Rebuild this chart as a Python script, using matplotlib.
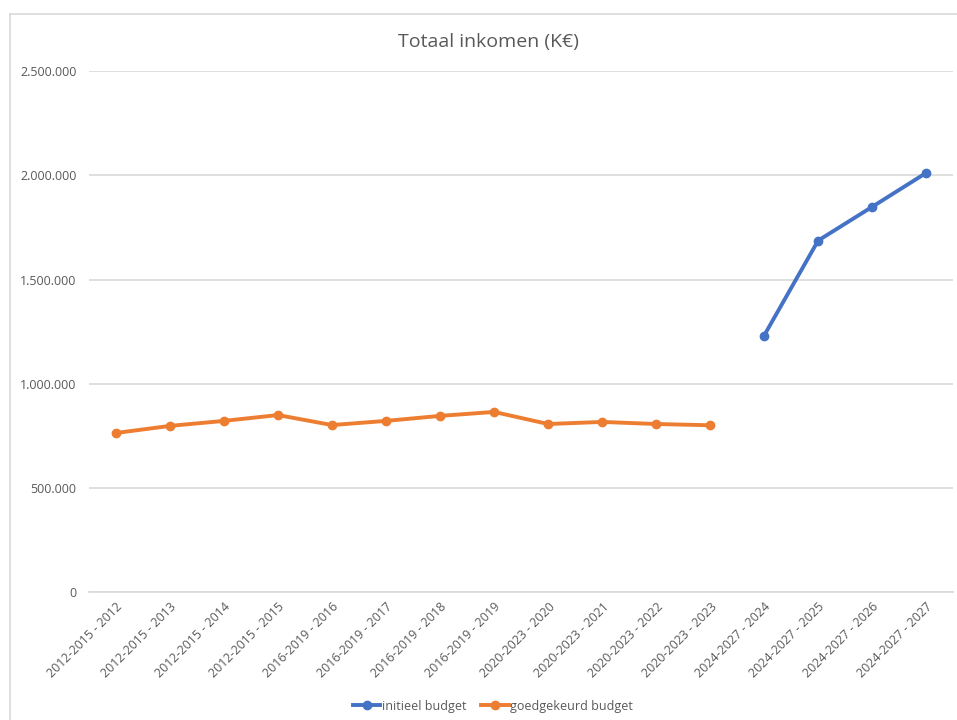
import matplotlib.pyplot as plt
from matplotlib.ticker import FuncFormatter
from matplotlib.lines import Line2D

plt.rcParams['font.family'] = ['Open Sans', 'DejaVu Sans']

# categorieën (legislatuur - jaar)
labels = ['2012-2015 - 2012', '2012-2015 - 2013', '2012-2015 - 2014', '2012-2015 - 2015',
          '2016-2019 - 2016', '2016-2019 - 2017', '2016-2019 - 2018', '2016-2019 - 2019',
          '2020-2023 - 2020', '2020-2023 - 2021', '2020-2023 - 2022', '2020-2023 - 2023',
          '2024-2027 - 2024', '2024-2027 - 2025', '2024-2027 - 2026', '2024-2027 - 2027']

# goedgekeurd budget (2012-2023)
goedgekeurd = [763000, 797000, 821000, 849000, 801000, 821000, 845000, 864000,
               806000, 816000, 806000, 800000]
# initieel budget (2024-2027)
initieel = [1231000, 1687000, 1849000, 2012000]

blue = '#4472C4'
orange = '#ED7D31'
grey = '#595959'

fig = plt.figure(figsize=(9.57, 7.2), dpi=100)
ax = fig.add_axes([0.093, 0.178, 0.903, 0.723])

x_all = list(range(len(labels)))
x_goed = x_all[:len(goedgekeurd)]
x_init = x_all[len(goedgekeurd):]

ax.plot(x_init, initieel, color=blue, lw=2.8, marker='o', ms=6, label='initieel budget',
        solid_capstyle='round', zorder=3)
ax.plot(x_goed, goedgekeurd, color=orange, lw=2.8, marker='o', ms=6, label='goedgekeurd budget',
        solid_capstyle='round', zorder=3)

ax.set_xlim(-0.5, len(labels) - 0.5)
ax.set_ylim(0, 2500000)
ax.set_yticks(range(0, 2500001, 500000))
ax.yaxis.set_major_formatter(FuncFormatter(lambda v, p: f'{int(v):,}'.replace(',', '.')))
ax.set_xticks(x_all)
ax.set_xticklabels(labels, rotation=45, ha='right', rotation_mode='anchor')

ax.grid(axis='y', color='#D9D9D9', lw=1.2)
ax.set_axisbelow(True)
for s in ['top', 'right', 'left']:
    ax.spines[s].set_visible(False)
ax.spines['bottom'].set_color('#D9D9D9')
ax.spines['bottom'].set_linewidth(1.2)
ax.tick_params(axis='both', length=0, colors=grey, labelsize=9)
ax.tick_params(axis='y', pad=9)
ax.tick_params(axis='x', pad=6)

fig.text(0.51, 0.942, 'Totaal inkomen (K€)', ha='center', va='center', fontsize=14, color=grey)

handles = [Line2D([], [], color=blue, lw=2.8, marker='o', ms=6),
           Line2D([], [], color=orange, lw=2.8, marker='o', ms=6)]
fig.legend(handles, ['initieel budget', 'goedgekeurd budget'], loc='center',
           bbox_to_anchor=(0.515, 0.019), ncol=2, frameon=False, fontsize=9,
           labelcolor=grey, handlelength=2.2, handletextpad=0.1, columnspacing=1.2)

# lichte rand links en boven, zoals in de bron
fig.add_artist(Line2D([0.0105, 0.0105], [0.0, 0.981], color='#D9D9D9', lw=1.2))
fig.add_artist(Line2D([0.0105, 1.0], [0.981, 0.981], color='#D9D9D9', lw=1.2))

fig.savefig('out.png', dpi=100, facecolor='white')
